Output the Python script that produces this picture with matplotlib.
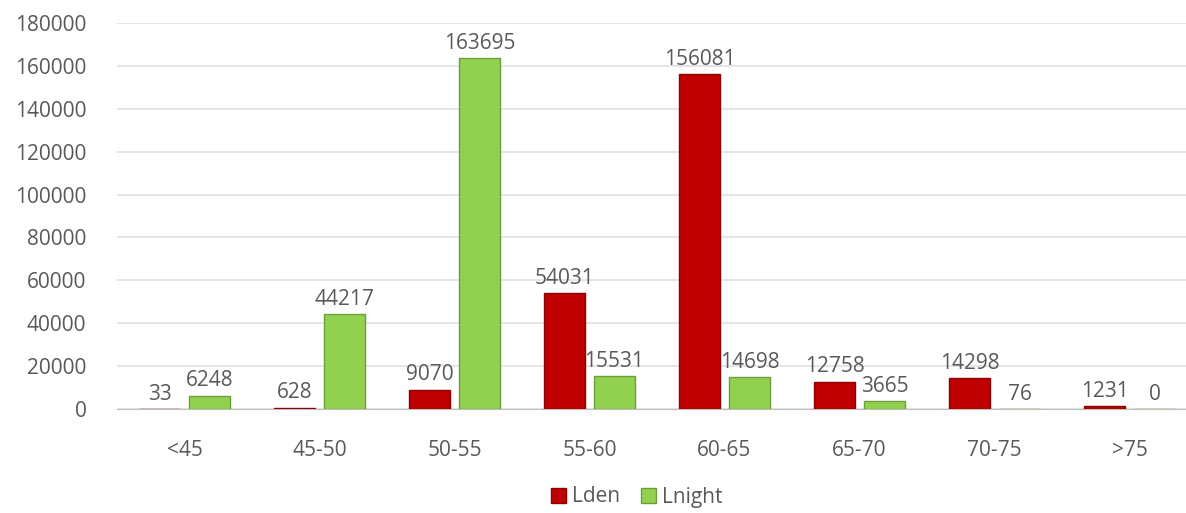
import matplotlib.pyplot as plt
import numpy as np

categories = ['<45', '45-50', '50-55', '55-60', '60-65', '65-70', '70-75', '>75']
lden = [33, 628, 9070, 54031, 156081, 12758, 14298, 1231]
lnight = [6248, 44217, 163695, 15531, 14698, 3665, 76, 0]

plt.rcParams['font.family'] = ['Open Sans', 'DejaVu Sans']
txt_color = '#595959'

fig = plt.figure(figsize=(11.86, 5.13), dpi=100)
ax = fig.add_axes([117 / 1186, 104 / 513, (1186 - 117) / 1186, 386 / 513])

x = np.arange(len(categories))
w = 0.31
off = 0.185

b1 = ax.bar(x - off, lden, w, color='#C00000', edgecolor='#8B0000', linewidth=1, label='Lden', zorder=3)
b2 = ax.bar(x + off, lnight, w, color='#92D050', edgecolor='#6E9E3A', linewidth=1, label='Lnight', zorder=3)

for bars in (b1, b2):
    for r in bars:
        ax.annotate(f'{int(r.get_height())}', (r.get_x() + r.get_width() / 2, r.get_height()),
                    xytext=(0, 3), textcoords='offset points', ha='center', va='bottom',
                    fontsize=15, color=txt_color)

ax.set_xlim(-0.5, (1186 - 117) / 135 - 0.5)
ax.set_ylim(0, 180000)
ax.set_yticks(range(0, 180001, 20000))
ax.set_xticks(x)
ax.set_xticklabels(categories)
ax.tick_params(axis='both', length=0, labelsize=15, labelcolor=txt_color)
ax.tick_params(axis='x', pad=22)
ax.tick_params(axis='y', pad=22)
ax.grid(axis='y', color='#e0e0e0', linewidth=1.2, zorder=0)
for s in ['top', 'right', 'left']:
    ax.spines[s].set_visible(False)
ax.spines['bottom'].set_color('#bfbfbf')

fig.legend(handles=[b1, b2], loc='center', bbox_to_anchor=(637 / 1186, 16 / 513), ncol=2,
           frameon=False, fontsize=15, labelcolor=txt_color, handlelength=0.7, handleheight=0.7,
           handletextpad=0.3, columnspacing=1.0)

fig.savefig('out.png', dpi=100)
